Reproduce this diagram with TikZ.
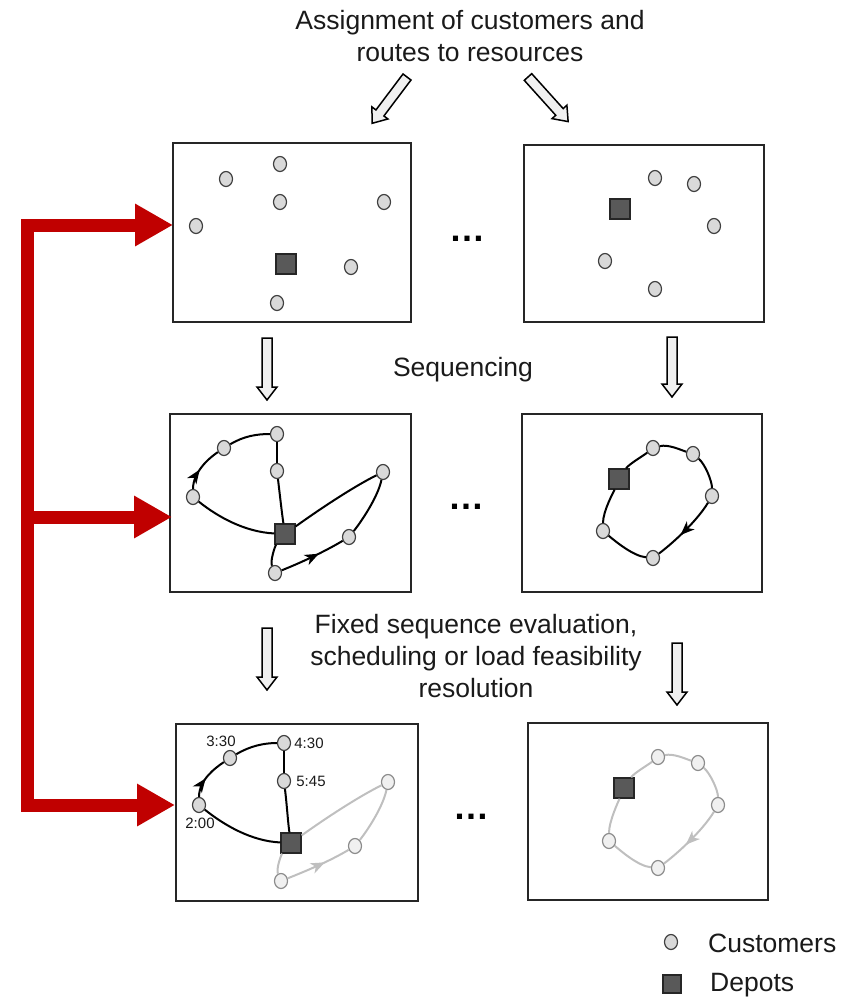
\documentclass[tikz,border=0pt]{standalone}
\usepackage{fontspec}
\setmainfont{Liberation Sans}
\usetikzlibrary{shapes.geometric, arrows.meta, decorations.markings, calc}
\definecolor{redarr}{HTML}{C00000}
\definecolor{custfill}{HTML}{D9D9D9}
\definecolor{custline}{HTML}{404040}
\definecolor{depotfill}{HTML}{595959}
\definecolor{ghostline}{HTML}{BFBFBF}
\definecolor{ghostfill}{HTML}{F0F0F0}
\definecolor{ghostdraw}{HTML}{8C8C8C}
\definecolor{blockfill}{HTML}{F0F0F0}
\definecolor{txt}{HTML}{1A1A1A}
\tikzset{redtip/.tip={Triangle[length=38pt,width=40pt]}}
\begin{document}
\begin{tikzpicture}[x=1pt, y=-1pt,
  panel/.style={rectangle, draw=black!85, line width=1.4pt, inner sep=0pt},
  cust/.style={ellipse, draw=custline, fill=custfill, line width=1.2pt, minimum width=13pt, minimum height=15pt, inner sep=0pt},
  gcust/.style={ellipse, draw=ghostdraw, fill=ghostfill, line width=1.2pt, minimum width=13pt, minimum height=15pt, inner sep=0pt},
  depot/.style={rectangle, draw=black!85, fill=depotfill, line width=1.3pt, minimum size=20pt, inner sep=0pt},
  route/.style={line width=2pt, draw=black},
  groute/.style={line width=2pt, draw=ghostline},
  midarrow/.style={postaction={decorate}, decoration={markings, mark=at position #1 with {\arrow[black]{Stealth[length=14pt,width=11pt,inset=4pt]}}}},
  gmidarrow/.style={postaction={decorate}, decoration={markings, mark=at position #1 with {\arrow[ghostline]{Stealth[length=14pt,width=11pt,inset=4pt]}}}},
  redbar/.style={draw=redarr, line width=13pt, line join=miter},
  blockline/.style={draw=black, line width=1.5pt, fill=blockfill, line join=miter},
  maintext/.style={text=txt, font=\fontsize{26.5}{32}\selectfont, inner sep=0pt},
  timelabel/.style={text=txt, font=\fontsize{15}{17}\selectfont, inner sep=0pt},
  dots/.style={text=black, font=\fontsize{36}{36}\selectfont\bfseries, inner sep=0pt, anchor=base},
  pics/blockarrow/.style={code={\draw[blockline] (-5,0) -- (-5,#1-13) -- (-10,#1-13) -- (0,#1) -- (10,#1-13) -- (5,#1-13) -- (5,0) -- cycle;}}
]
\useasboundingbox (0,0) rectangle (842,999);

% ---------- texts ----------
\node[maintext, align=center] (title) at (470,36) {Assignment of customers and\\routes to resources};
\node[maintext] (seq) at (463,370) {Sequencing};
\node[maintext, align=center] (fixed) at (476,656) {Fixed sequence evaluation,\\scheduling or load feasibility\\resolution};

% ---------- block arrows ----------
\pic[rotate=-37] at (407,77) {blockarrow=58};
\pic[rotate=42] at (528,77) {blockarrow=60};
\pic at (267,338) {blockarrow=62};
\pic at (672,337) {blockarrow=60};
\pic at (267,628) {blockarrow=62};
\pic at (677,643) {blockarrow=62};

% ---------- panels ----------
\node[panel, minimum width=238pt, minimum height=179pt] (tl) at (292,232.5) {};
\node[panel, minimum width=240pt, minimum height=177pt] (tr) at (644,233.5) {};
\node[panel, minimum width=241pt, minimum height=178pt] (ml) at (290.5,503) {};
\node[panel, minimum width=240pt, minimum height=178pt] (mr) at (642,503) {};
\node[panel, minimum width=242pt, minimum height=177pt] (bl) at (297,812.5) {};
\node[panel, minimum width=240pt, minimum height=177pt] (br) at (648,811.5) {};

\node[dots] (d1) at (467,241) {…};
\node[dots] (d2) at (466,509) {…};
\node[dots] (d3) at (471,819) {…};

% ---------- top-left ----------
\node[cust] (t1a) at (226,179) {};
\node[cust] (t1b) at (280,164) {};
\node[cust] (t1c) at (280,202) {};
\node[cust] (t1d) at (384,202) {};
\node[cust] (t1e) at (196,226) {};
\node[cust] (t1f) at (351,267) {};
\node[cust] (t1g) at (277,303) {};
\node[depot] (t1p) at (286,264) {};

% ---------- top-right ----------
\node[cust] (t2a) at (655,178) {};
\node[cust] (t2b) at (694,184) {};
\node[cust] (t2c) at (714,226) {};
\node[cust] (t2d) at (605,261) {};
\node[cust] (t2e) at (655,289) {};
\node[depot] (t2p) at (620,209) {};

% ---------- middle-left ----------
\node[cust] (m1a) at (193,497) {};
\node[cust] (m1b) at (224,448) {};
\node[cust] (m1c) at (277,434) {};
\node[cust] (m1d) at (277,471) {};
\node[depot] (m1p) at (285,534) {};
\node[cust] (m1e) at (383,472) {};
\node[cust] (m1f) at (349,537) {};
\node[cust] (m1g) at (275,573) {};
\draw[route] (m1p) .. controls +(-40,-2) and +(25,20) .. (m1a);
\draw[route, midarrow=0.45] (m1a) .. controls +(0,-25) and +(-15,10) .. (m1b);
\draw[route] (m1b) .. controls +(20,-12) and +(-20,0) .. (m1c);
\draw[route] (m1c) -- (m1d);
\draw[route] (m1d) .. controls +(3,25) and +(-3,-20) .. (m1p);
\draw[route] (m1p) .. controls +(35,-25) and +(-30,15) .. (m1e);
\draw[route] (m1e) .. controls +(-5,25) and +(12,-15) .. (m1f);
\draw[route, midarrow=0.6] (m1g) .. controls +(25,-10) and +(-25,15) .. (m1f);
\draw[route] (m1p) .. controls +(-10,12) and +(-5,-12) .. (m1g);

% ---------- middle-right ----------
\node[depot] (m2q) at (619,479) {};
\node[cust] (m2a) at (653,448) {};
\node[cust] (m2b) at (693,454) {};
\node[cust] (m2c) at (712,496) {};
\node[cust] (m2d) at (653,558) {};
\node[cust] (m2e) at (603,531) {};
\draw[route] (m2q) .. controls +(10,-15) and +(-10,8) .. (m2a);
\draw[route] (m2a) .. controls +(15,-4) and +(-12,-4) .. (m2b);
\draw[route] (m2b) .. controls +(12,10) and +(0,-15) .. (m2c);
\draw[route, midarrow=0.6] (m2c) .. controls +(-15,25) and +(20,-15) .. (m2d);
\draw[route] (m2d) .. controls +(-20,-2) and +(12,10) .. (m2e);
\draw[route] (m2e) .. controls +(0,-20) and +(-5,12) .. (m2q);

% ---------- bottom-left ----------
\node[gcust] (b1e) at (388,782) {};
\node[gcust] (b1f) at (355,846) {};
\node[gcust] (b1g) at (281,881) {};
\node[cust] (b1a) at (199,805) {};
\node[cust] (b1b) at (230,758) {};
\node[cust] (b1c) at (284,743) {};
\node[cust] (b1d) at (284,781) {};
\node[depot] (b1p) at (291,843) {};
\draw[groute] (b1p) .. controls +(35,-25) and +(-30,15) .. (b1e);
\draw[groute] (b1e) .. controls +(-5,25) and +(12,-15) .. (b1f);
\draw[groute, gmidarrow=0.6] (b1g) .. controls +(25,-10) and +(-25,15) .. (b1f);
\draw[groute] (b1p) .. controls +(-10,12) and +(-5,-12) .. (b1g);
\draw[route] (b1p) .. controls +(-40,-2) and +(25,20) .. (b1a);
\draw[route, midarrow=0.45] (b1a) .. controls +(0,-25) and +(-15,10) .. (b1b);
\draw[route] (b1b) .. controls +(20,-12) and +(-20,0) .. (b1c);
\draw[route] (b1c) -- (b1d);
\draw[route] (b1d) .. controls +(3,25) and +(-3,-20) .. (b1p);
\node[timelabel] (l330) at (221,741) {3:30};
\node[timelabel] (l430) at (309,743) {4:30};
\node[timelabel] (l545) at (311,781) {5:45};
\node[timelabel] (l200) at (200,823) {2:00};

% ---------- bottom-right ----------
\node[depot] (b2q) at (624,788) {};
\node[gcust] (b2a) at (658,757) {};
\node[gcust] (b2b) at (698,763) {};
\node[gcust] (b2c) at (718,805) {};
\node[gcust] (b2d) at (658,868) {};
\node[gcust] (b2e) at (609,841) {};
\draw[groute] (b2q) .. controls +(10,-15) and +(-10,8) .. (b2a);
\draw[groute] (b2a) .. controls +(15,-4) and +(-12,-4) .. (b2b);
\draw[groute] (b2b) .. controls +(12,10) and +(0,-15) .. (b2c);
\draw[groute, gmidarrow=0.6] (b2c) .. controls +(-15,25) and +(20,-15) .. (b2d);
\draw[groute] (b2d) .. controls +(-20,-2) and +(12,10) .. (b2e);
\draw[groute] (b2e) .. controls +(0,-20) and +(-5,12) .. (b2q);

% ---------- red feedback arrows ----------
\coordinate (r1) at (173,225);
\coordinate (r2) at (172,517);
\coordinate (r3) at (175,805);
\coordinate (rtop) at (27,225);
\coordinate (rmid) at (27,517);
\coordinate (rbot) at (27,805);
\draw[redbar, redtip-redtip] (r1) -- (rtop) -- (rbot) -- (r3);
\draw[redbar, -redtip] (rmid) -- (r2);

% ---------- legend ----------
\node[cust] (lgc) at (671,942) {};
\node[maintext, anchor=west] (lgct) at (708,943) {Customers};
\node[depot, minimum size=18pt] (lgd) at (672,984) {};
\node[maintext, anchor=west] (lgdt) at (710,985) {Depots};
\end{tikzpicture}
\end{document}
